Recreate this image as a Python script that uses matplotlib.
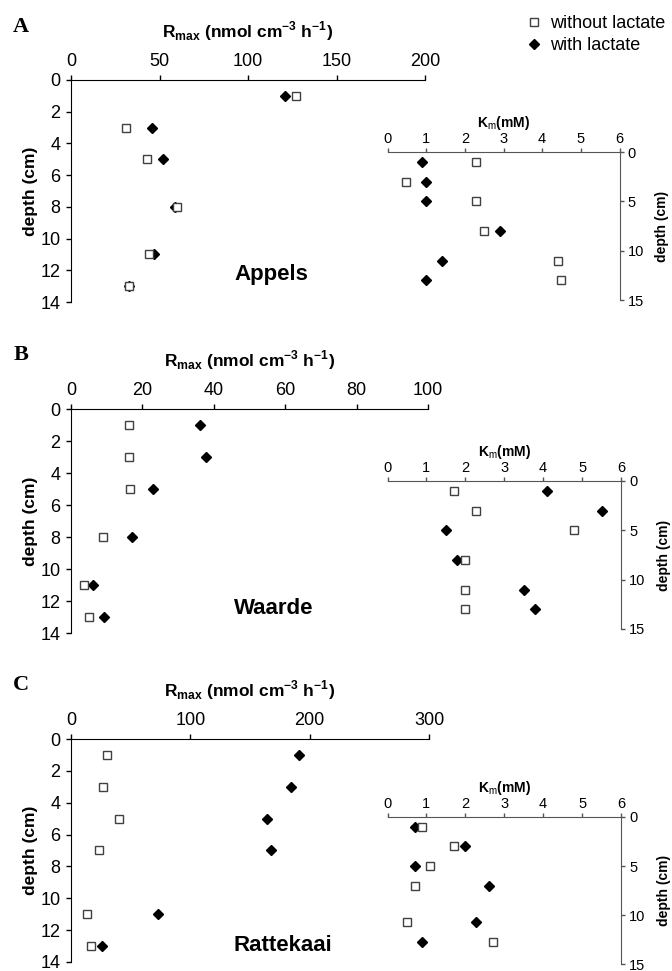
import matplotlib
matplotlib.use("Agg")
import matplotlib.pyplot as plt
from matplotlib.lines import Line2D

plt.rcParams['font.family'] = ['Liberation Sans', 'DejaVu Sans']
plt.rcParams['mathtext.fontset'] = 'custom'
plt.rcParams['mathtext.rm'] = 'Liberation Sans'
plt.rcParams['mathtext.bf'] = 'Liberation Sans:bold'

# depth (cm) of the samples
depthA = [1, 3, 5, 8, 11, 13]
depthB = [1, 3, 5, 8, 11, 13]
depthC = [1, 3, 5, 7, 11, 13]
depthC_km = [1, 3, 5, 7, 10.75, 12.75]

# Rmax (nmol cm-3 h-1)
rmaxA_without = [127, 31, 43, 60, 44, 33]
rmaxA_with = [121, 46, 52, 59, 47, 33]
rmaxB_without = [16.2, 16.2, 16.6, 8.9, 3.7, 5.1]
rmaxB_with = [36.1, 37.8, 22.9, 17.0, 6.1, 9.2]
rmaxC_without = [29.8, 26.5, 40.4, 23.7, 13.4, 16.7]
rmaxC_with = [191, 184, 164, 168, 73, 25.7]

# Km (mM)
kmA_without = [2.3, 0.48, 2.3, 2.5, 4.4, 4.48]
kmA_with = [0.89, 1.0, 1.0, 2.9, 1.4, 1.0]
kmB_without = [1.71, 2.28, 4.79, 2.0, 2.0, 2.0]
kmB_with = [4.1, 5.5, 1.5, 1.78, 3.5, 3.8]
kmC_without = [0.89, 1.7, 1.1, 0.7, 0.49, 2.7]
kmC_with = [0.7, 2.0, 0.7, 2.61, 2.28, 0.88]

sites = ['Appels', 'Waarde', 'Rattekaai']
letters = ['A', 'B', 'C']
rmax_max = [200, 100, 300]
rmax_step = [50, 20, 100]

W, H = 672, 971
fig = plt.figure(figsize=(W / 100, H / 100), dpi=100)


def px(l, t, r, b):
    return [l / W, 1 - b / H, (r - l) / W, (b - t) / H]


main_boxes = [px(71, 80, 425, 302), px(71, 409, 428, 633), px(71, 739, 429, 962)]
inset_boxes = [px(387.5, 152, 619.5, 300), px(387.5, 481, 621, 629), px(387.5, 817, 621, 964)]
name_pos = [(0.567, 0.126), (0.569, 0.11), (0.593, 0.073)]
letter_y = [27, 355, 685]

rmax_data = [(depthA, rmaxA_without, rmaxA_with),
             (depthB, rmaxB_without, rmaxB_with),
             (depthC, rmaxC_without, rmaxC_with)]
km_data = [(depthA, kmA_without, kmA_with),
           (depthB, kmB_without, kmB_with),
           (depthC_km, kmC_without, kmC_with)]

sq = dict(marker='s', ms=6, mfc='white', mec='#404040', mew=1, ls='none', clip_on=False)
dm = dict(marker='D', ms=4.6, mfc='black', mec='black', ls='none', clip_on=False)

for i in range(3):
    ax = fig.add_axes(main_boxes[i], facecolor='none')
    d, wo, wi = rmax_data[i]
    ax.plot(wi, d, **dm)
    ax.plot(wo, d, **sq)
    ax.set_xlim(0, rmax_max[i])
    ax.set_ylim(14, 0)
    ax.set_xticks(range(0, rmax_max[i] + 1, rmax_step[i]))
    ax.set_yticks(range(0, 15, 2))
    ax.xaxis.tick_top()
    ax.xaxis.set_label_position('top')
    for s in ['bottom', 'right']:
        ax.spines[s].set_visible(False)
    ax.tick_params(direction='out', length=3.5, width=1, labelsize=13)
    ax.tick_params(axis='x', pad=4)
    ax.tick_params(axis='y', pad=4)
    ax.set_xlabel(r'R$_\mathbf{max}$ (nmol cm$^\mathbf{-3}$ h$^\mathbf{-1}$)',
                  fontsize=12.5, fontweight='bold', labelpad=11)
    ax.set_ylabel('depth (cm)', fontsize=12.5, fontweight='bold', labelpad=2)
    ax.text(name_pos[i][0], name_pos[i][1], sites[i], transform=ax.transAxes,
            ha='center', va='center', fontsize=16, fontweight='bold')
    fig.text(21 / W, 1 - letter_y[i] / H, letters[i], family='Liberation Serif',
             fontweight='bold', fontsize=16, ha='center', va='center')

    ax2 = fig.add_axes(inset_boxes[i], facecolor='none')
    d, wo, wi = km_data[i]
    ax2.plot(wi, d, **dm)
    ax2.plot(wo, d, **sq)
    ax2.set_xlim(0, 6)
    ax2.set_ylim(15, 0)
    ax2.set_xticks(range(0, 7))
    ax2.set_yticks([0, 5, 10, 15])
    ax2.xaxis.tick_top()
    ax2.xaxis.set_label_position('top')
    ax2.yaxis.tick_right()
    ax2.yaxis.set_label_position('right')
    for s in ['bottom', 'left']:
        ax2.spines[s].set_visible(False)
    for s in ['top', 'right']:
        ax2.spines[s].set_color('#555555')
    ax2.tick_params(direction='out', length=3, width=1, color='#555555', labelsize=10.5)
    ax2.tick_params(axis='x', pad=1)
    ax2.tick_params(axis='y', pad=3)
    ax2.set_xlabel(r'K$_\mathrm{m}$(mM)', fontsize=10, fontweight='bold', labelpad=4)
    ax2.set_ylabel('depth (cm)', fontsize=10, fontweight='bold', labelpad=8)

handles = [Line2D([], [], **sq), Line2D([], [], **dm)]
fig.legend(handles, ['without lactate', 'with lactate'], loc='upper left',
           bbox_to_anchor=(516 / W, 1 - 6 / H), frameon=False, fontsize=13,
           handlelength=1.0, handletextpad=0.4, borderpad=0, labelspacing=0.3)

fig.savefig('out.png', dpi=100)
